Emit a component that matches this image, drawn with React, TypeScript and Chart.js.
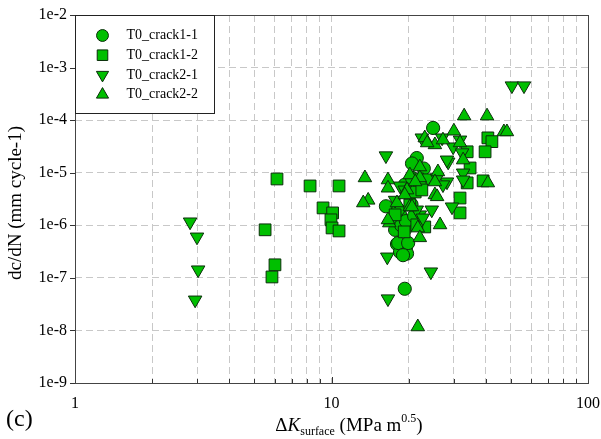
import React, { useEffect, useRef } from 'react';
import { Chart, registerables } from 'chart.js';
import { drawPoint } from 'chart.js/helpers';

Chart.register(...registerables);

// ---- Data (ΔK in MPa m^0.5, dc/dN in mm/cycle) ----
const crack11X = [24.9, 21.5, 20.6, 22.9, 22.1, 20.2, 19.3, 20.6, 16.3, 17.2, 18.5, 17.7, 19.3, 18.0, 18.5, 19.5, 19.7, 18.2, 19.9, 19.0, 19.3, 18.7, 19.5, 20.5, 21.0, 18.2];
const crack11Y = [7.1e-5, 1.9e-5, 1.5e-5, 1.2e-5, 5.9e-6, 3.8e-6, 5.9e-6, 8.0e-6, 2.3e-6, 1.3e-6, 1.6e-6, 8.2e-7, 8.2e-7, 4.4e-7, 3.1e-7, 3.7e-7, 2.9e-7, 4.6e-7, 4.6e-7, 2.7e-7, 6.2e-8, 1.0e-6, 1.2e-6, 2.5e-6, 1.5e-6, 2.0e-6];

const crack12X = [6.13, 5.51, 6.02, 5.86, 8.25, 10.7, 9.27, 10.1, 9.95, 10.05, 10.7, 40.7, 42.2, 39.7, 33.8, 34.7, 33.8, 39.0, 31.7, 31.7, 21.2, 22.5, 19.2, 23.1, 21.5, 20.2, 17.7];
const crack12Y = [7.6e-6, 8.2e-7, 1.77e-7, 1.04e-7, 5.6e-6, 5.6e-6, 2.14e-6, 1.72e-6, 1.27e-6, 8.9e-7, 7.8e-7, 4.6e-5, 3.9e-5, 2.5e-5, 2.5e-5, 1.23e-5, 6.4e-6, 7.0e-6, 3.3e-6, 1.72e-6, 4.3e-6, 4.7e-6, 7.5e-7, 9.3e-7, 1.02e-6, 2.44e-6, 1.58e-6];

const crack21X = [2.81, 2.99, 3.02, 2.94, 50.5, 56.3, 16.3, 16.5, 24.4, 16.6, 22.5, 27.0, 31.7, 29.8, 32.3, 28.5, 28.2, 32.6, 32.6, 28.2, 27.2, 29.5, 24.6, 22.1, 21.5, 18.5, 23.8, 21.5, 25.8, 22.7, 19.3, 17.7];
const crack21Y = [1.16e-6, 6.0e-7, 1.42e-7, 3.8e-8, 4.5e-4, 4.5e-4, 2.1e-5, 2.5e-7, 1.3e-7, 4.0e-8, 4.6e-5, 4.6e-5, 4.2e-5, 3.1e-5, 2.4e-5, 1.6e-5, 1.75e-5, 9.9e-6, 7.3e-6, 6.7e-6, 5.9e-6, 2.24e-6, 1.96e-6, 1.58e-6, 1.96e-6, 5.6e-6, 8.0e-6, 8.3e-6, 8.0e-6, 1.38e-6, 4.7e-6, 3.0e-6];

const crack22X = [32.9, 40.4, 47.0, 48.3, 30.0, 23.1, 25.3, 27.2, 31.7, 32.6, 22.1, 26.0, 25.3, 13.5, 16.6, 16.6, 40.7, 13.9, 13.3, 25.3, 18.0, 20.2, 19.7, 22.1, 20.2, 21.2, 16.8, 21.7, 22.1, 26.5, 21.7, 19.3, 25.8, 16.6, 23.6, 20.6];
const crack22Y = [1.2e-4, 1.2e-4, 6.0e-5, 6.0e-5, 6.2e-5, 4.6e-5, 3.4e-5, 4.2e-5, 3.7e-5, 1.75e-5, 1.29e-5, 1.04e-5, 6.7e-6, 8.0e-6, 7.3e-6, 5.1e-6, 6.4e-6, 3.0e-6, 2.67e-6, 3.8e-6, 2.67e-6, 2.24e-6, 4.7e-6, 8.0e-6, 9.1e-6, 6.7e-6, 1.11e-6, 8.9e-7, 5.8e-7, 1.02e-6, 1.17e-8, 3.8e-6, 3.5e-6, 1.27e-6, 3.7e-5, 2.24e-6];

const seriesLabels = ['T0_crack1-1', 'T0_crack1-2', 'T0_crack2-1', 'T0_crack2-2'];
const xTickValues = [1, 2, 3, 4, 5, 6, 7, 8, 9, 10, 20, 30, 40, 50, 60, 70, 80, 90, 100];
const yTickExponents = [-9, -8, -7, -6, -5, -4, -3, -2];

const FILL = '#00bf00';
const EDGE = '#0b2e0b';
const SERIF = '"Liberation Serif", "Times New Roman", serif';

const zip = (xs: number[], ys: number[]) => xs.map((x, i) => ({ x, y: ys[i] }));

const styles = [
  { pointStyle: 'circle', radius: 6.6, rotation: 0 },
  { pointStyle: 'rect', radius: 8.3, rotation: 0 },
  { pointStyle: 'triangle', radius: 7.8, rotation: 180 },
  { pointStyle: 'triangle', radius: 7.8, rotation: 0 },
];

const decorPlugin = {
  id: 'decor',
  afterDraw(chart: any) {
    const { ctx, chartArea: a } = chart;
    const xs = chart.scales.x;
    const ys = chart.scales.y;
    ctx.save();
    // inward ticks
    ctx.strokeStyle = '#333';
    ctx.lineWidth = 1;
    ctx.setLineDash([]);
    ctx.beginPath();
    xTickValues.forEach((v) => {
      const px = Math.round(xs.getPixelForValue(v)) + 0.5;
      const major = Math.abs(Math.log10(v) - Math.round(Math.log10(v))) < 1e-9;
      ctx.moveTo(px, a.bottom);
      ctx.lineTo(px, a.bottom - (major ? 6 : 4));
    });
    yTickExponents.forEach((e) => {
      const py = Math.round(ys.getPixelForValue(Math.pow(10, e))) + 0.5;
      ctx.moveTo(a.left, py);
      ctx.lineTo(a.left - 5, py);
    });
    ctx.stroke();
    // frame
    ctx.strokeStyle = '#444';
    ctx.strokeRect(Math.round(a.left) + 0.5, Math.round(a.top) + 0.5, Math.round(a.right - a.left), Math.round(a.bottom - a.top));

    // legend
    const lx = Math.round(a.left) + 0.5;
    const ly = Math.round(a.top) + 0.5;
    const lw = 139;
    const lh = 98;
    ctx.fillStyle = '#fff';
    ctx.fillRect(lx, ly, lw, lh);
    ctx.strokeStyle = '#222';
    ctx.strokeRect(lx, ly, lw, lh);
    seriesLabels.forEach((lab, i) => {
      const cy = ly + 20 + i * 19.7;
      const s = styles[i];
      ctx.fillStyle = FILL;
      ctx.strokeStyle = EDGE;
      ctx.lineWidth = 1;
      drawPoint(ctx, { pointStyle: s.pointStyle, rotation: s.rotation, radius: s.radius * 0.9, borderWidth: 1 } as any, lx + 27, cy);
      ctx.fillStyle = '#000';
      ctx.font = `14px ${SERIF}`;
      ctx.textAlign = 'left';
      ctx.textBaseline = 'middle';
      ctx.fillText(lab, lx + 51, cy);
    });

    // y title
    ctx.save();
    ctx.translate(16, (a.top + a.bottom) / 2 + 4);
    ctx.rotate(-Math.PI / 2);
    ctx.fillStyle = '#000';
    ctx.font = `19px ${SERIF}`;
    ctx.textAlign = 'center';
    ctx.textBaseline = 'middle';
    ctx.fillText('dc/dN (mm cycle-1)', 0, 0);
    ctx.restore();

    // x title: ΔK_surface (MPa m^0.5)
    const parts = [
      { t: '\u0394', f: `19px ${SERIF}`, dy: 0 },
      { t: 'K', f: `italic 19px ${SERIF}`, dy: 0 },
      { t: 'surface', f: `12px ${SERIF}`, dy: 4 },
      { t: ' (MPa m', f: `19px ${SERIF}`, dy: 0 },
      { t: '0.5', f: `12px ${SERIF}`, dy: -9 },
      { t: ')', f: `19px ${SERIF}`, dy: 0 },
    ];
    let total = 0;
    const widths = parts.map((p) => {
      ctx.font = p.f;
      const w = ctx.measureText(p.t).width;
      total += w;
      return w;
    });
    let cx = 349 - total / 2;
    const base = 431;
    ctx.textAlign = 'left';
    ctx.textBaseline = 'alphabetic';
    ctx.fillStyle = '#000';
    parts.forEach((p, i) => {
      ctx.font = p.f;
      ctx.fillText(p.t, cx, base + p.dy);
      cx += widths[i];
    });

    // panel label
    ctx.font = `24px ${SERIF}`;
    ctx.fillText('(c)', 6, 426);
    ctx.restore();
  },
};

export default function App() {
  const ref = useRef<HTMLCanvasElement | null>(null);
  useEffect(() => {
    if (!ref.current) return;
    const sets = [
      zip(crack11X, crack11Y),
      zip(crack12X, crack12Y),
      zip(crack21X, crack21Y),
      zip(crack22X, crack22Y),
    ];
    const chart = new Chart(ref.current, {
      type: 'scatter',
      data: {
        datasets: sets.map((d, i) => ({
          label: seriesLabels[i],
          data: d,
          order: 3 - i,
          pointStyle: styles[i].pointStyle as any,
          pointRadius: styles[i].radius,
          pointRotation: styles[i].rotation,
          pointBackgroundColor: FILL,
          pointBorderColor: EDGE,
          pointBorderWidth: 1,
          backgroundColor: FILL,
          borderColor: EDGE,
        })),
      },
      options: {
        responsive: false,
        animation: false,
        events: [],
        layout: { padding: { top: 15, right: 13, left: 0, bottom: 0 } },
        plugins: { legend: { display: false }, tooltip: { enabled: false } },
        scales: {
          x: {
            type: 'logarithmic',
            min: 1,
            max: 100,
            afterBuildTicks: (s: any) => {
              s.ticks = xTickValues.map((v) => ({ value: v }));
            },
            afterFit: (s: any) => {
              s.height = 56;
              s.paddingLeft = 0;
              s.paddingRight = 0;
            },
            ticks: {
              autoSkip: false,
              maxRotation: 0,
              padding: 11,
              color: '#000',
              font: { family: SERIF, size: 16 },
              callback: (v: any) => {
                const n = Number(v);
                return n === 1 || n === 10 || n === 100 ? String(n) : '';
              },
            },
            grid: { color: '#c8c8c8', lineWidth: 1, drawTicks: false },
            border: { display: false, dash: [7, 4] },
          },
          y: {
            type: 'logarithmic',
            min: 1e-9,
            max: 1e-2,
            afterBuildTicks: (s: any) => {
              s.ticks = yTickExponents.map((e) => ({ value: Math.pow(10, e) }));
            },
            afterFit: (s: any) => {
              s.width = 75;
              s.paddingTop = 0;
              s.paddingBottom = 0;
            },
            ticks: {
              autoSkip: false,
              padding: 8,
              color: '#000',
              font: { family: SERIF, size: 16 },
              callback: (v: any) => '1e' + Math.round(Math.log10(Number(v))),
            },
            grid: { color: '#c8c8c8', lineWidth: 1, drawTicks: false },
            border: { display: false, dash: [7, 4] },
          },
        },
      },
      plugins: [decorPlugin],
    });
    return () => chart.destroy();
  }, []);
  return (
    <div style={{ position: 'absolute', left: 0, top: 0, width: 601, height: 439, background: '#fff' }}>
      <canvas ref={ref} width={601} height={439} style={{ display: 'block' }} />
    </div>
  );
}
